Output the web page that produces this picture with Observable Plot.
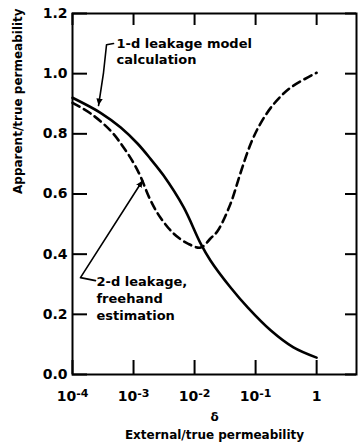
<!DOCTYPE html>
<html><head><meta charset="utf-8">
<script src="https://cdn.jsdelivr.net/npm/d3@7"></script>
<script src="https://cdn.jsdelivr.net/npm/@observablehq/plot@0.6"></script>
<style>body{margin:0;background:#fff}</style>
</head><body><div id="chart"></div>
<script>
// 1-d leakage model calculation (solid)
const solidDelta = [1e-4, 2.88e-4, 6.17e-4, 1.17e-3, 1.91e-3, 3.09e-3, 6.61e-3, 1.26e-2, 1.82e-2, 3.89e-2, 7.41e-2, 0.178, 0.417, 1];
const solidRatio = [0.920, 0.870, 0.821, 0.767, 0.716, 0.662, 0.556, 0.435, 0.379, 0.289, 0.223, 0.146, 0.090, 0.056];
// 2-d leakage freehand estimation (dashed)
const dashDelta = [1e-4, 2.0e-4, 4.17e-4, 6.92e-4, 1.17e-3, 1.91e-3, 2.75e-3, 4.57e-3, 7.76e-3, 1.26e-2, 1.82e-2, 2.40e-2, 3.89e-2, 5.62e-2, 8.32e-2, 0.120, 0.200, 0.372, 1];
const dashRatio = [0.903, 0.867, 0.811, 0.754, 0.678, 0.578, 0.522, 0.468, 0.435, 0.422, 0.452, 0.478, 0.568, 0.668, 0.767, 0.834, 0.900, 0.953, 1.003];

const xTicks = [1e-4, 1e-3, 1e-2, 1e-1, 1];
const xTickLabels = ["10|-4", "10|-3", "10|-2", "10|-1", "1"];
const yTicks = [0, 0.2, 0.4, 0.6, 0.8, 1.0, 1.2];
const yTickLabels = ["0.0", "0.2", "0.4", "0.6", "0.8", "1.0", "1.2"];

const xLabelSymbol = "δ";
const xLabel = "External/true permeability";
const yLabel = "Apparent/true permeability";

// annotations
const note1 = "1-d leakage model\ncalculation";
const note1Delta = [5.26e-4];
const note1Ratio = [1.126];
const leader1Delta = [4.70e-4, 3.61e-4, 3.22e-4, 2.67e-4];
const leader1Ratio = [1.100, 1.096, 1.003, 0.894];

const note2 = "2-d leakage,\nfreehand\nestimation";
const note2Delta = [2.47e-4];
const note2Ratio = [0.332];
const leader2Delta = [2.38e-4, 1.35e-4, 1.41e-3];
const leader2Ratio = [0.312, 0.322, 0.645];

const solid = solidDelta.map((d, i) => ({delta: d, ratio: solidRatio[i]}));
const dashed = dashDelta.map((d, i) => ({delta: d, ratio: dashRatio[i]}));
const leader1 = leader1Delta.map((d, i) => ({delta: d, ratio: leader1Ratio[i]}));
const leader2 = leader2Delta.map((d, i) => ({delta: d, ratio: leader2Ratio[i]}));

const W = 359, H = 446, mL = 72, mR = 3, mT = 13, mB = 72;
const frameW = W - mL - mR, frameH = H - mT - mB;

const filledArrow = (color, context) => {
  const m = d3.create("svg:marker")
    .attr("viewBox", "-7 -4 8 8")
    .attr("markerWidth", 8).attr("markerHeight", 8)
    .attr("markerUnits", "userSpaceOnUse")
    .attr("orient", "auto");
  m.append("path").attr("d", "M-7,-3.2L0,0L-7,3.2Z").attr("fill", color).attr("stroke", "none");
  return m.node();
};

const font = "'DejaVu Sans', sans-serif";
const bold = "bold";
const ink = "black";

const chart = Plot.plot({
  width: W,
  height: H,
  marginLeft: mL,
  marginRight: mR,
  marginTop: mT,
  marginBottom: mB,
  style: {fontFamily: font, fontSize: "14px", fontWeight: "bold", color: "black", background: "white"},
  x: {type: "log", domain: [1e-4, 4.5], ticks: xTicks, tickSize: 0, tickPadding: 17, label: null,
      tickFormat: (d) => xTickLabels[xTicks.indexOf(d)]},
  y: {domain: [0, 1.2], ticks: yTicks, tickSize: 0, tickPadding: 5, label: null,
      tickFormat: (d) => yTickLabels[yTicks.indexOf(d)]},
  marks: [
    Plot.frame({stroke: ink, strokeWidth: 2}),
    // inward ticks on all four sides
    Plot.ruleX(xTicks, {x: (d) => d, insetTop: frameH - 14, stroke: ink, strokeWidth: 2}),
    Plot.ruleX(xTicks, {x: (d) => d, insetBottom: frameH - 12, stroke: ink, strokeWidth: 2}),
    Plot.ruleY(yTicks, {y: (d) => d, insetRight: frameW - 15, stroke: ink, strokeWidth: 2}),
    Plot.ruleY(yTicks, {y: (d) => d, insetLeft: frameW - 11, stroke: ink, strokeWidth: 2}),
    // curves
    Plot.line(solid, {x: "delta", y: "ratio", curve: "catmull-rom", strokeWidth: 2.6, stroke: ink}),
    Plot.line(dashed, {x: "delta", y: "ratio", curve: "catmull-rom", strokeWidth: 2.6, stroke: ink, strokeDasharray: "8,5"}),
    // annotations
    Plot.line(leader1, {x: "delta", y: "ratio", stroke: ink, strokeWidth: 1.6, markerEnd: filledArrow}),
    Plot.line(leader2, {x: "delta", y: "ratio", stroke: ink, strokeWidth: 1.6, markerEnd: filledArrow}),
    Plot.text([note1], {x: () => note1Delta[0], y: () => note1Ratio[0], text: (d) => d, textAnchor: "start", lineAnchor: "top", lineHeight: 1.28, fontSize: 13, fontWeight: bold}),
    Plot.text([note2], {x: () => note2Delta[0], y: () => note2Ratio[0], text: (d) => d, textAnchor: "start", lineAnchor: "top", lineHeight: 1.28, fontSize: 13, fontWeight: bold}),
    // axis labels
    Plot.text([yLabel], {frameAnchor: "left", dx: -54, rotate: -90, text: (d) => d, fontSize: 12, fontWeight: bold}),
    Plot.text([xLabelSymbol], {frameAnchor: "bottom", dy: 46, text: (d) => d, fontSize: 12, fontWeight: bold}),
    Plot.text([xLabel], {frameAnchor: "bottom", dy: 64, text: (d) => d, fontSize: 12, fontWeight: bold})
  ]
});

// superscript exponents for the x tick labels
d3.select(chart).selectAll('g[aria-label="x-axis tick label"] text').each(function () {
  const t = this.textContent;
  if (t.indexOf("|") < 0) return;
  const [base, exp] = t.split("|");
  const sel = d3.select(this);
  sel.text(null);
  sel.append("tspan").text(base);
  sel.append("tspan").attr("dy", "-0.45em").attr("font-size", "11px").text(exp);
});

document.getElementById("chart").appendChild(chart);
</script>
</body></html>
